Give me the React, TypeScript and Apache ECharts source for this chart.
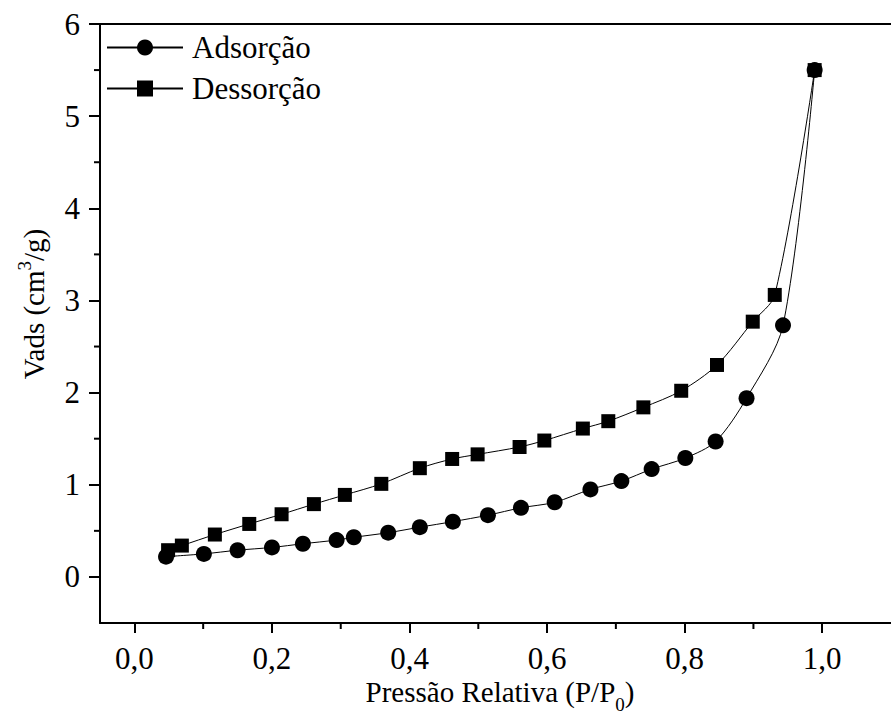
import React, { useEffect, useRef } from "react";
import * as echarts from "echarts";

const adsX = [0.046, 0.101, 0.150, 0.200, 0.245, 0.294, 0.319, 0.369, 0.415, 0.463, 0.514, 0.562, 0.611, 0.663, 0.708, 0.752, 0.801, 0.845, 0.890, 0.943, 0.989];
const adsY = [0.22, 0.25, 0.29, 0.32, 0.36, 0.40, 0.43, 0.48, 0.54, 0.60, 0.67, 0.75, 0.81, 0.95, 1.04, 1.17, 1.29, 1.47, 1.94, 2.73, 5.50];
const desX = [0.049, 0.069, 0.117, 0.167, 0.214, 0.261, 0.306, 0.359, 0.415, 0.462, 0.499, 0.560, 0.596, 0.652, 0.689, 0.740, 0.795, 0.847, 0.899, 0.931, 0.989];
const desY = [0.29, 0.34, 0.46, 0.575, 0.68, 0.79, 0.89, 1.01, 1.18, 1.28, 1.33, 1.41, 1.48, 1.61, 1.69, 1.84, 2.02, 2.30, 2.77, 3.06, 5.50];

const xMajor = [0, 0.2, 0.4, 0.6, 0.8, 1.0];
const xMinor = [0.1, 0.3, 0.5, 0.7, 0.9];
const yMajor = [0, 1, 2, 3, 4, 5, 6];
const yMinor = [0.5, 1.5, 2.5, 3.5, 4.5, 5.5];

const seriesNames = ["Adsorção", "Dessorção"];
const xTitleParts = ["Pressão Relativa (P/P", "0", ")"];
const yTitleParts = ["Vads (cm", "3", "/g)"];

const FONT = "Liberation Serif";
const BLACK = "#000";

function measure(text: string, size: number): number {
  const ctx = document.createElement("canvas").getContext("2d");
  if (!ctx) return text.length * size * 0.45;
  ctx.font = `${size}px "${FONT}"`;
  return ctx.measureText(text).width;
}

function titleChildren(parts: string[], big: number, small: number, scriptDy: number) {
  const w0 = measure(parts[0], big);
  const w1 = measure(parts[1], small);
  const w2 = measure(parts[2], big);
  const start = -(w0 + w1 + w2) / 2;
  const base = { fill: BLACK, align: "left", verticalAlign: "middle" };
  return [
    { type: "text", x: start, y: 0, style: { ...base, text: parts[0], font: `${big}px "${FONT}"`, fontFamily: FONT, fontSize: big } },
    { type: "text", x: start + w0, y: scriptDy, style: { ...base, text: parts[1], font: `${small}px "${FONT}"`, fontFamily: FONT, fontSize: small } },
    { type: "text", x: start + w0 + w1, y: 0, style: { ...base, text: parts[2], font: `${big}px "${FONT}"`, fontFamily: FONT, fontSize: big } },
  ];
}

export default function App() {
  const ref = useRef<HTMLDivElement>(null);
  useEffect(() => {
    document.body.style.margin = "0";
    const chart = echarts.init(ref.current!, null, { renderer: "svg" });
    const X_MIN = -0.05, X_MAX = 1.1, Y_MIN = -0.5, Y_MAX = 6;
    const lineAxis = { show: true, onZero: false, lineStyle: { color: BLACK, width: 2 } };
    const tickStyle = { color: BLACK, width: 2 };
    const titles = [
      { type: "group", id: "xTitle", x: 500, y: 692, children: titleChildren(xTitleParts, 29, 19, 12) },
      { type: "group", id: "yTitle", x: 34, y: 304, rotation: Math.PI / 2, children: titleChildren(yTitleParts, 29, 19, -10) },
    ];
    chart.setOption({
      animation: false,
      backgroundColor: "#fff",
      textStyle: { fontFamily: FONT, color: BLACK },
      grid: { left: 100, right: -9, top: 24, bottom: 97, containLabel: false },
      legend: {
        left: 101,
        top: 27,
        orient: "vertical",
        itemWidth: 76,
        itemHeight: 20,
        itemGap: 10,
        textStyle: { fontSize: 31, fontFamily: FONT, color: BLACK, padding: [0, 0, 0, 4] },
        data: seriesNames,
      },
      graphic: titles,
      xAxis: [
        {
          type: "value", min: X_MIN, max: X_MAX, position: "bottom",
          axisLine: lineAxis,
          axisTick: { show: true, customValues: xMajor, length: 10, lineStyle: tickStyle },
          axisLabel: {
            customValues: xMajor, fontSize: 31, fontFamily: FONT, color: BLACK, margin: 20,
            formatter: (v: number) => v.toFixed(1).replace(".", ","),
          },
          splitLine: { show: false },
        },
        {
          type: "value", min: X_MIN, max: X_MAX, position: "top",
          axisLine: lineAxis, axisTick: { show: false }, axisLabel: { show: false }, splitLine: { show: false },
        },
      ],
      yAxis: [
        {
          type: "value", min: Y_MIN, max: Y_MAX, position: "left",
          axisLine: lineAxis,
          axisTick: { show: true, customValues: yMajor, length: 11, lineStyle: tickStyle },
          axisLabel: { customValues: yMajor, fontSize: 31, fontFamily: FONT, color: BLACK, margin: 20 },
          splitLine: { show: false },
        },
      ],
      series: [
        {
          name: seriesNames[0], type: "line", xAxisIndex: 0, yAxisIndex: 0,
          data: adsX.map((x, i) => [x, adsY[i]]),
          smooth: 0.3, symbol: "circle", symbolSize: 16,
          lineStyle: { color: BLACK, width: 1 },
          itemStyle: { color: BLACK },
        },
        {
          name: seriesNames[1], type: "line", xAxisIndex: 0, yAxisIndex: 0,
          data: desX.map((x, i) => [x, desY[i]]),
          smooth: 0.3, symbol: "rect", symbolSize: 14,
          lineStyle: { color: BLACK, width: 1 },
          itemStyle: { color: BLACK },
        },
      ],
    });
    // minor ticks placed through the chart's own scales
    const minorTicks: any[] = [];
    xMinor.forEach((v, i) => {
      const p = chart.convertToPixel({ gridIndex: 0 }, [v, Y_MIN]) as number[];
      minorTicks.push({ type: "line", id: "xm" + i, z: 100, shape: { x1: p[0], y1: p[1], x2: p[0], y2: p[1] + 6 }, style: { stroke: BLACK, lineWidth: 2 } });
    });
    yMinor.forEach((v, i) => {
      const p = chart.convertToPixel({ gridIndex: 0 }, [X_MIN, v]) as number[];
      minorTicks.push({ type: "line", id: "ym" + i, z: 100, shape: { x1: p[0], y1: p[1], x2: p[0] - 6, y2: p[1] }, style: { stroke: BLACK, lineWidth: 2 } });
    });
    chart.setOption({ graphic: [...titles, ...minorTicks] });
    return () => chart.dispose();
  }, []);
  return <div ref={ref} style={{ width: 891, height: 720 }} />;
}
